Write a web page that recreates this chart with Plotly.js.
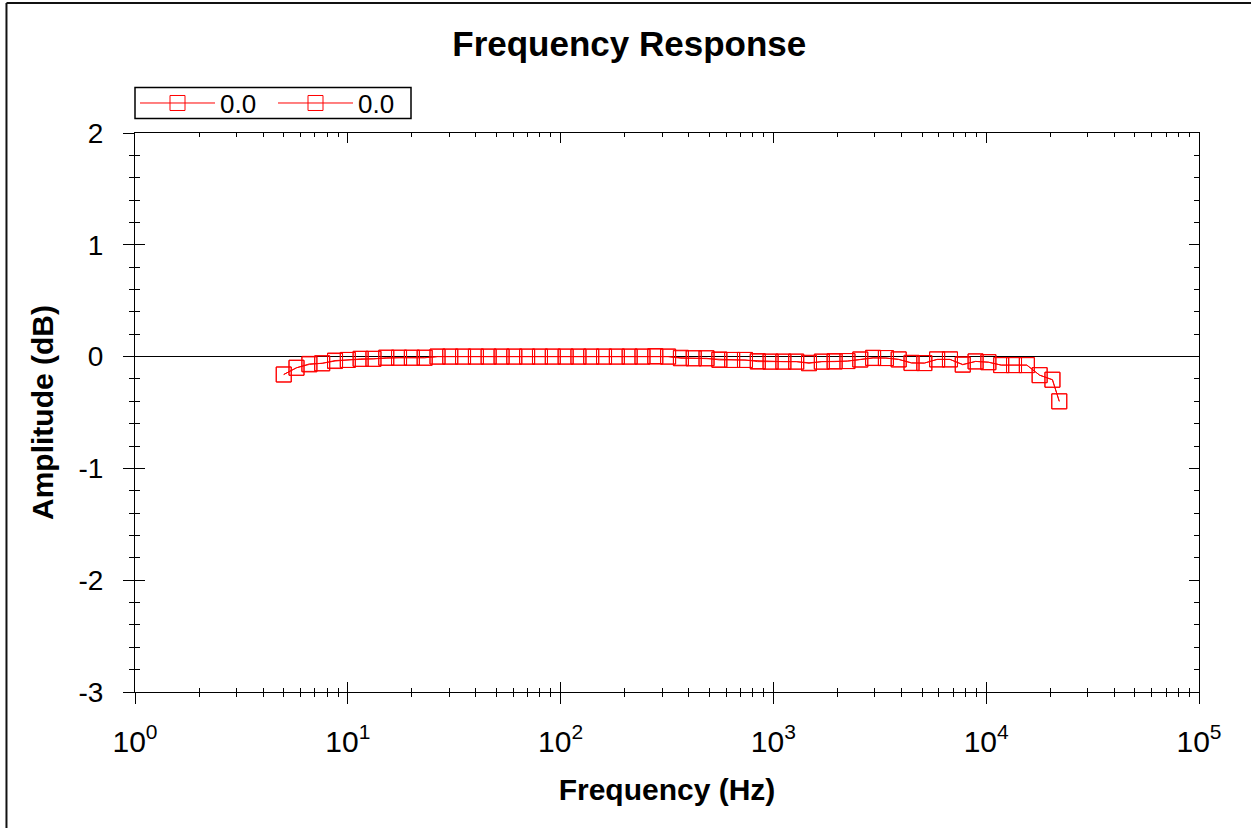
<!DOCTYPE html>
<html><head><meta charset="utf-8">
<script src="https://cdn.plot.ly/plotly-3.0.1.min.js"></script>
<style>html,body{margin:0;padding:0;background:#fff}#chart{width:1251px;height:828px}</style>
</head><body><div id="chart"></div>
<script>
const frequencyHz = [5, 5.74, 6.6, 7.58, 8.71, 10, 11.49, 13.2, 15.16, 17.41,
  20, 22.97, 26.4, 30.3, 34.8, 40, 45.9, 52.8, 60.6, 69.6,
  80, 91.9, 105.6, 121.3, 139.3, 160, 183.8, 211.1, 242.5, 278.6,
  320, 367.6, 422.2, 485, 557.2, 640, 735.2, 844.5, 970, 1114,
  1280, 1470, 1689, 1940, 2229, 2560, 2941, 3378, 3880, 4457,
  5120, 5881, 6756, 7760, 8914, 10240, 11763, 13512, 15521, 17829,
  20480, 22050];
const amplitudeA = [-0.16, -0.10, -0.07, -0.06, -0.04, -0.03, -0.02, -0.02, -0.01, -0.01,
  -0.01, -0.01, 0, 0, 0, 0, 0, 0, 0, 0,
  0, 0, 0, 0, 0, 0, 0, 0, 0, 0,
  0, -0.015, -0.015, -0.015, -0.03, -0.03, -0.03, -0.045, -0.045, -0.045,
  -0.045, -0.06, -0.045, -0.045, -0.04, -0.027, -0.013, -0.013, -0.025, -0.058,
  -0.058, -0.025, -0.025, -0.073, -0.043, -0.05, -0.076, -0.076, -0.076, -0.166,
  -0.207, -0.40];
const amplitudeB = [-0.16, -0.10, -0.065, -0.06, -0.035, -0.03, -0.02, -0.02, -0.01, -0.01,
  -0.01, -0.01, 0, 0, 0, 0, 0, 0, 0, 0,
  0, 0, 0, 0, 0, 0, 0, 0, 0, 0.005,
  0, -0.01, -0.015, -0.015, -0.025, -0.03, -0.03, -0.04, -0.045, -0.045,
  -0.045, -0.055, -0.045, -0.04, -0.04, -0.025, -0.01, -0.013, -0.025, -0.055,
  -0.058, -0.025, -0.025, -0.07, -0.043, -0.05, -0.076, -0.076, -0.076, -0.166,
  -0.207, -0.40];
const seriesNames = ['0.0', '0.0'];
const xTickVals = [1, 10, 100, 1000, 10000, 100000];
const xTickLabels = ['10<sup>0</sup>', '10<sup>1</sup>', '10<sup>2</sup>', '10<sup>3</sup>', '10<sup>4</sup>', '10<sup>5</sup>'];
const yTickVals = [-3, -2, -1, 0, 1, 2];
const yTickLabels = ['-3', '-2', '-1', '0', '1', '2'];

const FONT = 'Liberation Sans, Arial, sans-serif';
const RED = 'rgb(255,0,0)';

function series(y, name, xa, ya) {
  return {
    type: 'scatter', mode: 'lines+markers', x: frequencyHz, y: y, name: name,
    xaxis: xa, yaxis: ya,
    line: {color: RED, width: 1},
    marker: {symbol: 'square-open', size: 15, color: RED, line: {color: RED, width: 1}}
  };
}
const data = [series(amplitudeA, seriesNames[0], 'x', 'y'), series(amplitudeB, seriesNames[1], 'x2', 'y2')];

const axBase = {showgrid: false, showline: true, linecolor: '#000', linewidth: 1, tickcolor: '#000', tickwidth: 1};
const layout = {
  width: 1251, height: 828,
  margin: {l: 135, r: 52, t: 133, b: 136, pad: 0},
  paper_bgcolor: '#fff', plot_bgcolor: '#fff',
  font: {family: FONT, color: '#000'},
  title: {text: '<b>Frequency Response</b>', font: {family: FONT, size: 35, color: '#000'},
    xref: 'container', yref: 'container', x: 0.503, y: 0.947, xanchor: 'center', yanchor: 'middle'},
  showlegend: true,
  legend: {orientation: 'h', x: 0, xanchor: 'left', y: 1.0535, yanchor: 'middle',
    bgcolor: 'rgba(0,0,0,0)', borderwidth: 0, font: {family: FONT, size: 26, color: '#000'},
    itemwidth: 75, entrywidth: 48, entrywidthmode: 'pixels'},
  xaxis: Object.assign({}, axBase, {
    type: 'log', range: [0, 5], tickmode: 'array', tickvals: xTickVals, ticktext: xTickLabels,
    ticks: 'outside', ticklen: 11, mirror: true, zeroline: false,
    tickfont: {family: FONT, size: 30, color: '#000'}, ticklabelstandoff: 12,
    minor: {dtick: 'D1', ticks: 'outside', ticklen: 4, tickcolor: '#000', tickwidth: 1, showgrid: false},
    title: {text: '<b>Frequency (Hz)</b>', font: {family: FONT, size: 30, color: '#000'}, standoff: 21}
  }),
  xaxis2: Object.assign({}, axBase, {
    type: 'log', range: [0, 5], overlaying: 'x', side: 'bottom', tickmode: 'array', tickvals: xTickVals,
    ticks: 'inside', ticklen: 10, mirror: 'ticks', showticklabels: false, zeroline: false,
    minor: {dtick: 'D1', ticks: 'inside', ticklen: 4, tickcolor: '#000', tickwidth: 1, showgrid: false}
  }),
  yaxis: Object.assign({}, axBase, {
    range: [-3, 2], tickmode: 'array', tickvals: yTickVals, ticktext: yTickLabels,
    ticks: 'outside', ticklen: 11, mirror: true,
    zeroline: true, zerolinecolor: '#000', zerolinewidth: 1.3,
    tickfont: {family: FONT, size: 28, color: '#000'}, ticklabelstandoff: 14,
    minor: {dtick: 0.2, ticks: 'outside', ticklen: 5, tickcolor: '#000', tickwidth: 1, showgrid: false},
    title: {text: '<b>Amplitude (dB)</b>', font: {family: FONT, size: 30, color: '#000'}, standoff: 15}
  }),
  yaxis2: Object.assign({}, axBase, {
    range: [-3, 2], overlaying: 'y', side: 'left', tickmode: 'array', tickvals: yTickVals,
    ticks: 'inside', ticklen: 10, mirror: 'ticks', showticklabels: false, zeroline: false,
    minor: {dtick: 0.2, ticks: 'inside', ticklen: 5, tickcolor: '#000', tickwidth: 1, showgrid: false}
  }),
  shapes: [
    {type: 'line', xref: 'paper', yref: 'paper', x0: -0.1208, x1: -0.1208, y0: -0.3, y1: 1.2326, line: {color: '#111', width: 2}},
    {type: 'line', xref: 'paper', yref: 'paper', x0: -0.1208, x1: 1.1, y0: 1.2326, y1: 1.2326, line: {color: '#111', width: 2}},
    {type: 'rect', xref: 'paper', yref: 'paper', x0: 0, x1: 0.2594, y0: 1.0258, y1: 1.0813, line: {color: '#000', width: 1.5}, fillcolor: 'rgba(0,0,0,0)'}
  ]
};
Plotly.newPlot('chart', data, layout, {displayModeBar: false, staticPlot: true});
</script>
</body></html>
